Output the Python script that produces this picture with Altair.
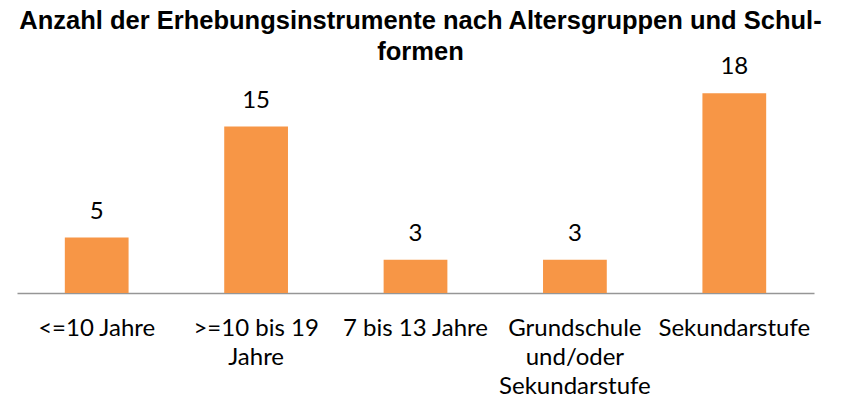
import altair as alt
import pandas as pd

categories = ["<=10 Jahre", ">=10 bis 19 Jahre", "7 bis 13 Jahre",
              "Grundschule und/oder Sekundarstufe", "Sekundarstufe"]
label_lines = [["<=10 Jahre"], [">=10 bis 19", "Jahre"], ["7 bis 13 Jahre"],
               ["Grundschule", "und/oder", "Sekundarstufe"], ["Sekundarstufe"]]
values = [5, 15, 3, 3, 18]
title_lines = ["Anzahl der Erhebungsinstrumente nach Altersgruppen und Schul-", "formen"]

df = pd.DataFrame({"Kategorie": categories, "Anzahl": values})

# build label expression for wrapped axis labels
expr = "datum.label"
for cat, lines in reversed(list(zip(categories, label_lines))):
    arr = "[" + ",".join("'" + l + "'" for l in lines) + "]"
    expr = f"datum.value == '{cat}' ? {arr} : ({expr})"

x = alt.X("Kategorie:N", sort=categories,
          scale=alt.Scale(paddingInner=0.6, paddingOuter=0.3),
          axis=alt.Axis(title=None, labelAngle=0, ticks=False, labelExpr=expr,
                        labelFont="Lato", labelFontSize=24, labelColor="#000000",
                        labelPadding=23, labelLineHeight=29, labelLimit=300,
                        domainColor="#969696", domainWidth=1.5, grid=False))
y = alt.Y("Anzahl:Q", scale=alt.Scale(domain=[0, 20], nice=False), axis=None)

bars = alt.Chart(df).mark_bar(color="#F79646").encode(x=x, y=y)
labels = alt.Chart(df).mark_text(font="Lato", fontSize=24, color="#000000",
                                 baseline="alphabetic", dy=-19).encode(
    x=alt.X("Kategorie:N", sort=categories), y=y, text="Anzahl:Q")

chart = alt.layer(bars, labels).properties(
    width=797, height=222,
    padding={"left": 9, "top": 63, "right": 40, "bottom": 104},
    autosize=alt.AutoSizeParams(type="none"),
    title=alt.TitleParams(title_lines, font="Liberation Sans", fontSize=25.5,
                          fontWeight="bold", color="#000000", lineHeight=31,
                          anchor="middle", frame="group", offset=-10, dx=5),
).configure_view(stroke=None)

chart.save("out.html", embed_options={"renderer": "svg", "actions": False})
